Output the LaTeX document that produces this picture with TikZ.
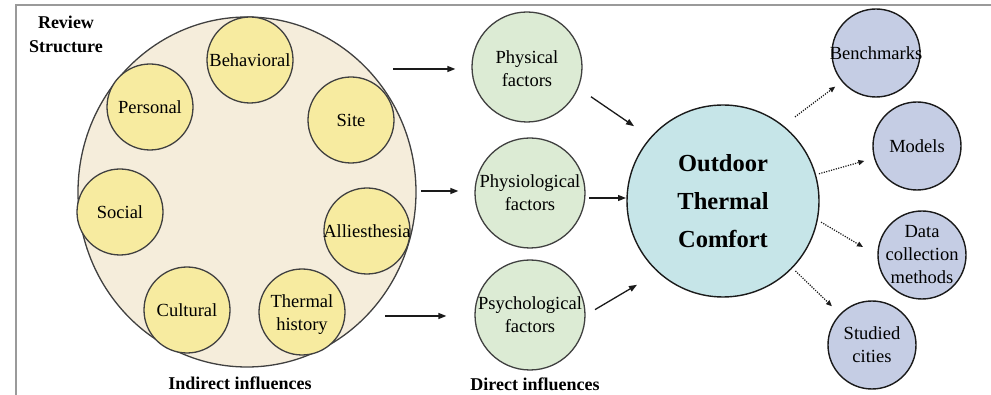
\documentclass[tikz,border=0pt]{standalone}
\usepackage{fontspec}
\setmainfont{Liberation Serif}
\usetikzlibrary{arrows.meta,shapes.geometric}
\definecolor{framec}{HTML}{9A9A9A}
\definecolor{bordc}{HTML}{404040}
\definecolor{darkc}{HTML}{1A1A1A}
\definecolor{beigec}{HTML}{F5EDDB}
\definecolor{yellowc}{HTML}{F7EBA0}
\definecolor{greenc}{HTML}{DCEBD4}
\definecolor{bluec}{HTML}{C6E5E8}
\definecolor{lavc}{HTML}{C5CDE4}
\begin{document}
\begin{tikzpicture}[x=1pt,y=-1pt,
  lbl/.style={font=\fontsize{18.5}{23}\selectfont, align=center, inner sep=0pt},
  hdr/.style={font=\bfseries\fontsize{18}{24}\selectfont, align=center, inner sep=0pt},
  bigcirc/.style={ellipse, draw=bordc, line width=1.3pt, fill=beigec, minimum width=338pt, minimum height=350pt, inner sep=0pt},
  ycirc/.style={circle, draw=bordc, line width=1.3pt, fill=yellowc, minimum size=86pt, inner sep=0pt},
  gcirc/.style={circle, draw=bordc, line width=1.3pt, fill=greenc, minimum size=110pt, inner sep=0pt},
  ocirc/.style={circle, draw=darkc, line width=1.4pt, fill=bluec, minimum size=192pt, inner sep=0pt},
  lcirc/.style={circle, draw=darkc, line width=1.4pt, fill=lavc, minimum size=88pt, inner sep=0pt},
  arr/.style={draw=darkc, line width=1.3pt, -{Triangle[length=8pt,width=6pt]}},
  darr/.style={draw=darkc, line width=1.2pt, dash pattern=on 1.2pt off 1.3pt, -{Triangle[length=6pt,width=5pt]}}
]
\useasboundingbox (0,0) rectangle (991,395);
\draw[framec, line width=2pt] (16,395) -- (16,5) -- (991,5);

% review structure
\node[bigcirc] (rev) at (247,192) {};
\node[ycirc, label={[lbl]center:Behavioral}] (beh) at (250,60) {};
\node[ycirc, label={[lbl]center:Personal}] (per) at (150,107) {};
\node[ycirc, label={[lbl]center:Site}] (site) at (351,120) {};
\node[ycirc, label={[lbl]center:Social}] (soc) at (120,212) {};
\node[ycirc, label={[lbl]center:Alliesthesia}] (all) at (367,231) {};
\node[ycirc, label={[lbl]center:Cultural}] (cul) at (187,310) {};
\node[ycirc, label={[lbl, yshift=-3pt]center:{Thermal\\history}}] (th) at (302,312) {};

\node[hdr] (rs) at (66,34) {Review\\Structure};
\node[hdr] (ind) at (240,383) {Indirect influences};
\node[hdr] (dir) at (535,384) {Direct influences};

% direct influences
\node[gcirc, label={[lbl, yshift=-2pt]center:{Physical\\factors}}] (phys) at (527,67) {};
\node[gcirc, label={[lbl]center:{Physiological\\factors}}] (physio) at (530,193) {};
\node[gcirc, label={[lbl]center:{Psychological\\factors}}] (psych) at (530,315) {};

% outdoor thermal comfort
\node[ocirc, label={[hdr, font=\bfseries\fontsize{24.5}{38}\selectfont]center:{Outdoor\\Thermal\\Comfort}}] (otc) at (723,201) {};

% outcomes
\node[lcirc, label={[lbl]center:Benchmarks}] (bench) at (876,53) {};
\node[lcirc, label={[lbl]center:Models}] (mod) at (917,146) {};
\node[lcirc, label={[lbl]center:{Data\\collection\\methods}}] (data) at (922,255) {};
\node[lcirc, label={[lbl]center:{Studied\\cities}}] (city) at (872,345) {};

% arrows from review structure
\coordinate (in1) at (393,69);
\coordinate (in2) at (421,191);
\coordinate (in3) at (385,316);
\draw[arr, shorten >=16pt] (in1) -- (in1 -| phys.west);
\draw[arr, shorten >=16pt] (in2) -- (in2 -| physio.west);
\draw[arr, shorten >=28pt] (in3) -- (in3 -| psych.west);

% arrows to OTC
\draw[arr, shorten <=77.5pt, shorten >=107.8pt] ([yshift=14pt]phys.center) -- ([yshift=14pt]otc.center);
\draw[arr, shorten <=59pt, shorten >=97pt] ([yshift=-5pt]physio.center) -- ([yshift=3pt]otc.center);
\draw[arr, shorten <=75.5pt, shorten >=99.9pt] ([yshift=-33pt]psych.center) -- ([yshift=-33pt]otc.center);

% dotted arrows
\draw[darr, shorten <=90pt, shorten >=51pt] ([yshift=30pt]otc.center) -- ([yshift=-3pt]bench.center);
\draw[darr, shorten <=3pt, shorten >=10pt] (otc) -- (mod);
\draw[darr, shorten <=114pt, shorten >=68.6pt] ([yshift=37pt]otc.center) -- ([yshift=-27pt]data.center);
\draw[darr, shorten <=4pt, shorten >=11pt] (otc) -- (city);
\end{tikzpicture}
\end{document}
